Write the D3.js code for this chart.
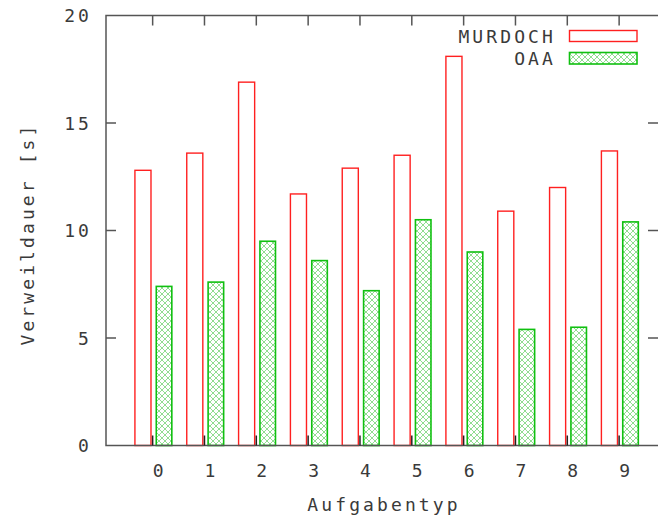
<!DOCTYPE html>
<html>
<head>
<meta charset="utf-8">
<script src="https://cdn.jsdelivr.net/npm/d3@7"></script>
<style>
  html, body { margin: 0; padding: 0; background: #fff; }
  svg text { font-family: "DejaVu Sans Mono", monospace; font-size: 18px; fill: #3a3a3a; letter-spacing: 3.1px; }
</style>
</head>
<body>
<div id="chart"></div>
<script>
// data
const categories = ['0', '1', '2', '3', '4', '5', '6', '7', '8', '9'];
const murdoch = [12.8, 13.6, 16.9, 11.7, 12.9, 13.5, 18.1, 10.9, 12.0, 13.7];
const oaa = [7.4, 7.6, 9.5, 8.6, 7.2, 10.5, 9.0, 5.4, 5.5, 10.4];
const yTicks = [0, 5, 10, 15, 20];
const seriesNames = ['MURDOCH', 'OAA'];

const WIDTH = 658;
const HEIGHT = 519;
const plotL = 106, plotR = 658, plotT = 15.5, plotB = 445.5;

const svg = d3.select('#chart').append('svg')
  .attr('width', WIDTH).attr('height', HEIGHT);

// crosshatch fill for OAA
const defs = svg.append('defs');
const pat = defs.append('pattern')
  .attr('id', 'hatch')
  .attr('patternUnits', 'userSpaceOnUse')
  .attr('width', 6).attr('height', 6);
pat.append('rect').attr('width', 6).attr('height', 6).attr('fill', '#fff');
pat.append('path')
  .attr('d', 'M0,0L6,6M6,0L0,6M-1,5L1,7M5,-1L7,1M-1,1L1,-1M5,7L7,5')
  .attr('stroke', '#30c030').attr('stroke-width', 0.9).attr('stroke-opacity', 0.6);

const x = d3.scaleLinear().domain([-0.9, 9.75]).range([plotL, plotR]);
const y = d3.scaleLinear().domain([0, 20]).range([plotB, plotT]);
const step = x(1) - x(0);

// bars
const g = svg.append('g');
g.selectAll('rect.murdoch')
  .data(murdoch)
  .join('rect')
  .attr('class', 'murdoch')
  .attr('x', (d, i) => x(i) - 0.342 * step)
  .attr('width', 0.31 * step)
  .attr('y', d => y(d))
  .attr('height', d => y(0) - y(d))
  .attr('fill', 'none')
  .attr('stroke', '#ff2020')
  .attr('stroke-width', 1.4);

g.selectAll('rect.oaa')
  .data(oaa)
  .join('rect')
  .attr('class', 'oaa')
  .attr('x', (d, i) => x(i) + 0.07 * step)
  .attr('width', 0.30 * step)
  .attr('y', d => y(d))
  .attr('height', d => y(0) - y(d))
  .attr('fill', 'url(#hatch)')
  .attr('stroke', '#10c010')
  .attr('stroke-width', 1.6);

// frame
const axisCol = '#555';
svg.append('rect')
  .attr('x', plotL).attr('y', plotT)
  .attr('width', plotR - plotL + 1).attr('height', plotB - plotT)
  .attr('fill', 'none').attr('stroke', axisCol).attr('stroke-width', 1.5);

// y ticks (left and mirrored right)
svg.selectAll('line.yt')
  .data(yTicks.slice(1, -1))
  .join('line')
  .attr('x1', plotL).attr('x2', plotL + 10)
  .attr('y1', d => y(d)).attr('y2', d => y(d))
  .attr('stroke', axisCol).attr('stroke-width', 1.5);
svg.selectAll('line.yt2')
  .data(yTicks.slice(1, -1))
  .join('line')
  .attr('x1', plotR).attr('x2', plotR - 10)
  .attr('y1', d => y(d)).attr('y2', d => y(d))
  .attr('stroke', axisCol).attr('stroke-width', 1.5);

svg.selectAll('text.yl')
  .data(yTicks)
  .join('text')
  .attr('x', plotL - 14)
  .attr('y', d => y(d) + 6.5)
  .attr('text-anchor', 'end')
  .text(d => d);

// x ticks
svg.selectAll('line.xb')
  .data(categories)
  .join('line')
  .attr('x1', (d, i) => x(i)).attr('x2', (d, i) => x(i))
  .attr('y1', plotB).attr('y2', plotB - 10)
  .attr('stroke', '#222').attr('stroke-width', 1.5);
svg.selectAll('line.xt')
  .data(categories)
  .join('line')
  .attr('x1', (d, i) => x(i)).attr('x2', (d, i) => x(i))
  .attr('y1', plotT).attr('y2', plotT + 10)
  .attr('stroke', axisCol).attr('stroke-width', 1.5);

svg.selectAll('text.xl')
  .data(categories)
  .join('text')
  .attr('x', (d, i) => x(i) + 7)
  .attr('y', 476.5)
  .attr('text-anchor', 'middle')
  .text(d => d);

// axis titles
svg.append('text')
  .attr('x', 384).attr('y', 510.5)
  .attr('text-anchor', 'middle')
  .text('Aufgabentyp');
svg.append('text')
  .attr('transform', 'translate(34,234) rotate(-90)')
  .attr('text-anchor', 'middle')
  .text('Verweildauer [s]');

// legend
const legend = svg.append('g');
const legY = [36, 58];
legend.selectAll('text')
  .data(seriesNames)
  .join('text')
  .attr('x', 556)
  .attr('y', (d, i) => legY[i] + 7)
  .attr('text-anchor', 'end')
  .text(d => d);
legend.append('rect')
  .attr('x', 569.5).attr('y', 30.5).attr('width', 67.5).attr('height', 11)
  .attr('fill', 'none').attr('stroke', '#ff2020').attr('stroke-width', 1.4);
legend.append('rect')
  .attr('x', 569.5).attr('y', 52.5).attr('width', 67.5).attr('height', 11.5)
  .attr('fill', 'url(#hatch)').attr('stroke', '#10c010').attr('stroke-width', 1.6);
</script>
</body>
</html>
